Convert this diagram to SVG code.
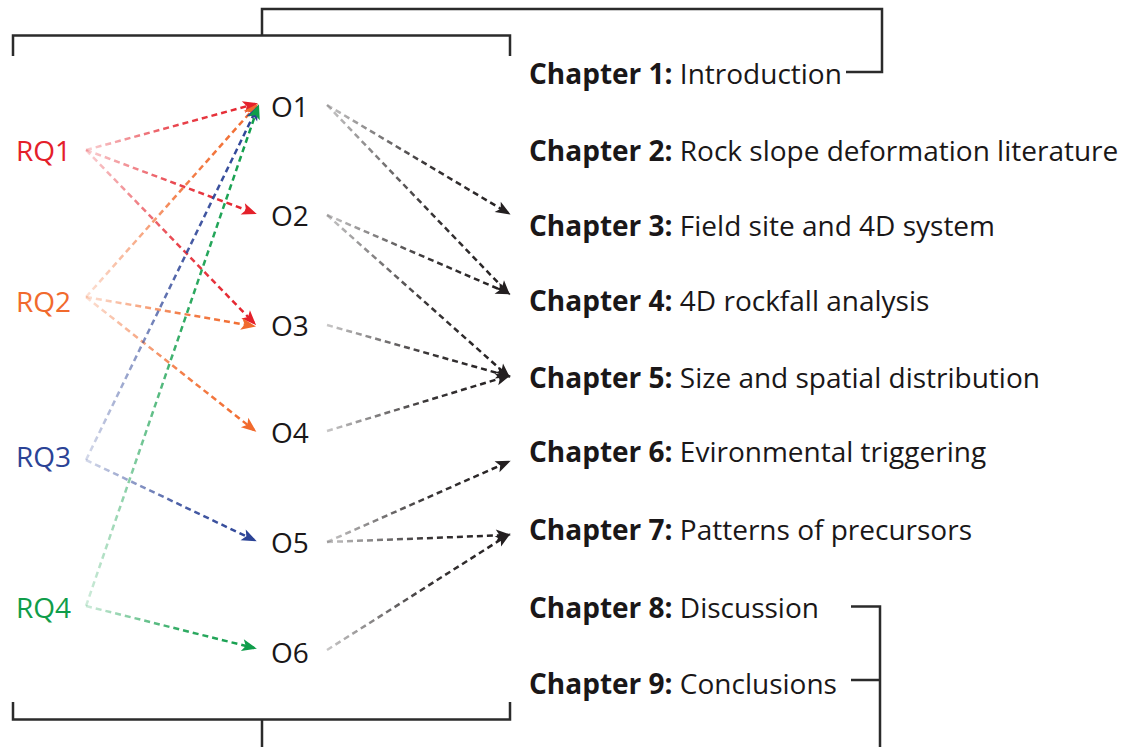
<svg xmlns="http://www.w3.org/2000/svg" width="1135" height="747" viewBox="0 0 1135 747">
<style>
text{font-family:"Open Sans","Noto Sans",sans-serif;font-size:28px;fill:#1a1718}
.b{font-weight:bold}
.br{fill:none;stroke:#2b2b2b;stroke-width:2.5}
.c{fill:none;stroke-width:2.5;stroke-dasharray:6 4}
.rd{stroke:url(#gR);marker-end:url(#mR)}
.or{stroke:url(#gO);marker-end:url(#mO)}
.bl{stroke:url(#gB);marker-end:url(#mB)}
.gn{stroke:url(#gG);marker-end:url(#mG)}
.bk{stroke:url(#gK);marker-end:url(#mK)}
</style>
<defs>
<linearGradient id="gR" x1="0" y1="0" x2="1" y2="0"><stop offset="0" stop-color="#e4202a" stop-opacity="0.2"/><stop offset="0.55" stop-color="#e4202a" stop-opacity="0.85"/><stop offset="1" stop-color="#e4202a"/></linearGradient>
<linearGradient id="gO" x1="0" y1="0" x2="1" y2="0"><stop offset="0" stop-color="#f16a2d" stop-opacity="0.2"/><stop offset="0.55" stop-color="#f16a2d" stop-opacity="0.85"/><stop offset="1" stop-color="#f16a2d"/></linearGradient>
<linearGradient id="gB" x1="0" y1="0" x2="1" y2="0"><stop offset="0" stop-color="#2b4396" stop-opacity="0.2"/><stop offset="0.55" stop-color="#2b4396" stop-opacity="0.85"/><stop offset="1" stop-color="#2b4396"/></linearGradient>
<linearGradient id="gG" x1="0" y1="0" x2="1" y2="0"><stop offset="0" stop-color="#0f9d4a" stop-opacity="0.2"/><stop offset="0.55" stop-color="#0f9d4a" stop-opacity="0.85"/><stop offset="1" stop-color="#0f9d4a"/></linearGradient>
<linearGradient id="gK" x1="0" y1="0" x2="1" y2="0"><stop offset="0" stop-color="#231f20" stop-opacity="0.25"/><stop offset="0.55" stop-color="#231f20" stop-opacity="0.9"/><stop offset="1" stop-color="#231f20"/></linearGradient>
<marker id="mR" markerUnits="userSpaceOnUse" markerWidth="16" markerHeight="14" refX="12" refY="6" orient="auto" overflow="visible"><path d="M0,0 L15,6 L0,12 L3.5,6 z" fill="#e4202a"/></marker>
<marker id="mO" markerUnits="userSpaceOnUse" markerWidth="16" markerHeight="14" refX="12" refY="6" orient="auto" overflow="visible"><path d="M0,0 L15,6 L0,12 L3.5,6 z" fill="#f16a2d"/></marker>
<marker id="mB" markerUnits="userSpaceOnUse" markerWidth="16" markerHeight="14" refX="12" refY="6" orient="auto" overflow="visible"><path d="M0,0 L15,6 L0,12 L3.5,6 z" fill="#2b4396"/></marker>
<marker id="mG" markerUnits="userSpaceOnUse" markerWidth="16" markerHeight="14" refX="12" refY="6" orient="auto" overflow="visible"><path d="M0,0 L15,6 L0,12 L3.5,6 z" fill="#0f9d4a"/></marker>
<marker id="mK" markerUnits="userSpaceOnUse" markerWidth="16" markerHeight="14" refX="12" refY="6" orient="auto" overflow="visible"><path d="M0,0 L15,6 L0,12 L3.5,6 z" fill="#231f20"/></marker>
</defs>

<g id="brackets">
<path class="br" d="M13,56 V35.5 H510 V56 M262,35.5 V9 H882 V72 H846"/>
<path class="br" d="M13,702 V719.5 H510 V702 M262,719.5 V747"/>
<path class="br" d="M851,606.5 H880 V747 M851,680 H880"/>
</g>

<g id="connectors">
<path class="c rd" d="M86,150 L255,104"/>
<path class="c rd" d="M86,150 L254,213"/>
<path class="c rd" d="M86,150 L254,323"/>
<path class="c or" d="M86,297 L256,106"/>
<path class="c or" d="M86,297 L253,326"/>
<path class="c or" d="M86,297 L254,430"/>
<path class="c bl" d="M86,460 L257,108"/>
<path class="c bl" d="M86,460 L254,540"/>
<path class="c gn" d="M86,606 L258,107"/>
<path class="c gn" d="M86,606 L254,648"/>
<path class="c bk" d="M327,105 L508,213"/>
<path class="c bk" d="M327,105 L508,293"/>
<path class="c bk" d="M327,215 L508,293"/>
<path class="c bk" d="M327,215 L508,376"/>
<path class="c bk" d="M327,325 L508,376"/>
<path class="c bk" d="M327,431 L508,376"/>
<path class="c bk" d="M327,542 L508,462"/>
<path class="c bk" d="M327,542 L508,535"/>
<path class="c bk" d="M327,650 L508,535"/>
</g>

<g id="RQ1"><text x="16" y="161" style="fill:#e4202a">RQ1</text></g>
<g id="RQ2"><text x="16" y="312" style="fill:#f16a2d">RQ2</text></g>
<g id="RQ3"><text x="16" y="467" style="fill:#2b4396">RQ3</text></g>
<g id="RQ4"><text x="16" y="618" style="fill:#0f9d4a">RQ4</text></g>

<g id="O1"><text x="271" y="117">O1</text></g>
<g id="O2"><text x="271" y="226">O2</text></g>
<g id="O3"><text x="271" y="336">O3</text></g>
<g id="O4"><text x="271" y="443">O4</text></g>
<g id="O5"><text x="271" y="553">O5</text></g>
<g id="O6"><text x="271" y="663">O6</text></g>

<g id="ch1"><text x="529" y="84"><tspan class="b">Chapter 1:</tspan> Introduction</text></g>
<g id="ch2"><text x="529" y="161"><tspan class="b">Chapter 2:</tspan> Rock slope deformation literature</text></g>
<g id="ch3"><text x="529" y="236"><tspan class="b">Chapter 3:</tspan> Field site and 4D system</text></g>
<g id="ch4"><text x="529" y="311"><tspan class="b">Chapter 4:</tspan> 4D rockfall analysis</text></g>
<g id="ch5"><text x="529" y="388"><tspan class="b">Chapter 5:</tspan> Size and spatial distribution</text></g>
<g id="ch6"><text x="529" y="462"><tspan class="b">Chapter 6:</tspan> Evironmental triggering</text></g>
<g id="ch7"><text x="529" y="540"><tspan class="b">Chapter 7:</tspan> Patterns of precursors</text></g>
<g id="ch8"><text x="529" y="618"><tspan class="b">Chapter 8:</tspan> Discussion</text></g>
<g id="ch9"><text x="529" y="694"><tspan class="b">Chapter 9:</tspan> Conclusions</text></g>
</svg>
